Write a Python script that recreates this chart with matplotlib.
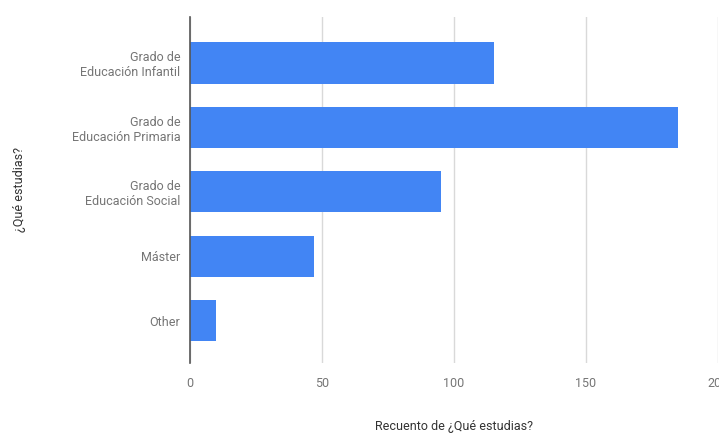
import numpy as np
import matplotlib.pyplot as plt

plt.rcParams['font.family'] = ['Roboto', 'DejaVu Sans']

# Data
categories = ['Grado de\nEducación Infantil', 'Grado de\nEducación Primaria',
              'Grado de\nEducación Social', 'Máster', 'Other']
counts = [115, 185, 95, 47, 10]
x_ticks = [0, 50, 100, 150, 200]

fig = plt.figure(figsize=(7.19, 4.36), dpi=100)
ax = fig.add_axes([190 / 719, 73 / 436, 528 / 719, 346 / 436])

y = np.arange(len(categories))
ax.barh(y, counts, height=0.64, color='#4285F4', zorder=3)

ax.set_xlim(0, 200)
ax.set_ylim(4.66, -0.714)
ax.set_xticks(x_ticks)
ax.set_yticks(y)
ax.set_yticklabels(categories, ha='right', multialignment='right')
ax.grid(axis='x', color='#d9d9d9', linewidth=1, zorder=0)

for side in ['top', 'right', 'bottom']:
    ax.spines[side].set_visible(False)
ax.spines['left'].set_color('#555555')
ax.spines['left'].set_linewidth(1.2)
ax.spines['left'].set_zorder(4)

ax.tick_params(axis='both', length=0, labelsize=9, colors='#757575')
ax.tick_params(axis='x', pad=10)
ax.tick_params(axis='y', pad=7)

ax.set_xlabel('Recuento de ¿Qué estudias?', fontsize=9, color='#333333', labelpad=22)
ax.set_ylabel('¿Qué estudias?', fontsize=9, color='#333333', labelpad=33)

fig.savefig('out.png', dpi=100)
